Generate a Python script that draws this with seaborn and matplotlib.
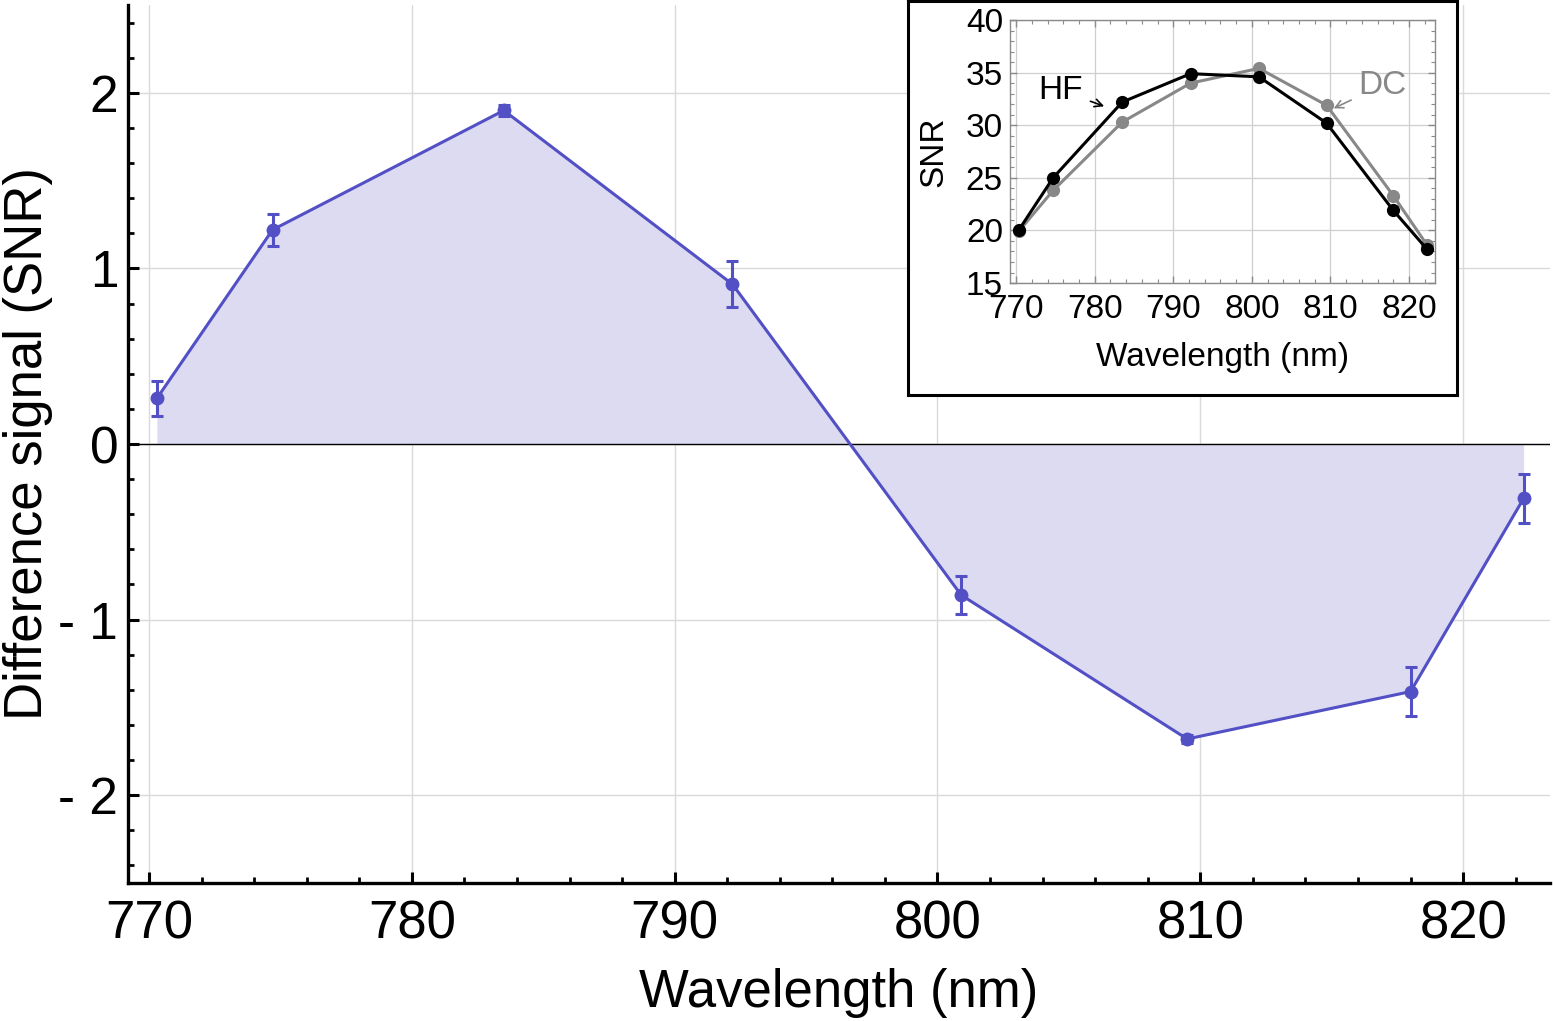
import numpy as np
import pandas as pd
import matplotlib.pyplot as plt
import matplotlib.ticker as mticker
import seaborn as sns

# values
wavelength = [770.3, 774.7, 783.5, 792.2, 800.9, 809.5, 818.0, 822.3]
diff_snr = [0.26, 1.22, 1.90, 0.91, -0.86, -1.68, -1.41, -0.31]
diff_err = [0.10, 0.09, 0.03, 0.13, 0.11, 0.02, 0.14, 0.14]

snr_hf = [20.0, 25.0, 32.2, 34.9, 34.6, 30.2, 21.9, 18.2]
snr_dc = [19.9, 23.8, 30.3, 34.0, 35.4, 31.9, 23.3, 18.6]

x_ticks = [770, 780, 790, 800, 810, 820]
y_ticks = [-2, -1, 0, 1, 2]
y_tick_labels = ['- 2', '- 1', '0', '1', '2']
inset_y_ticks = [15, 20, 25, 30, 35, 40]

df = pd.DataFrame({'wl': wavelength, 'diff': diff_snr, 'err': diff_err,
                   'HF': snr_hf, 'DC': snr_dc})

sns.set_style('white')
plt.rcParams['font.family'] = ['Liberation Sans', 'DejaVu Sans']
plt.rcParams['text.color'] = 'black'
plt.rcParams['axes.labelcolor'] = 'black'
plt.rcParams['xtick.color'] = 'black'
plt.rcParams['ytick.color'] = 'black'

blue = '#5250c4'
fill = '#dcdbf1'

fig = plt.figure(figsize=(15.53, 10.21), dpi=100)
ax = fig.add_axes([0.0824, 0.1352, 0.9156, 0.8598])

ax.fill_between(df['wl'], df['diff'], 0, color=fill, lw=0, zorder=1)
ax.axhline(0, color='black', lw=1.0, zorder=2)
sns.lineplot(data=df, x='wl', y='diff', ax=ax, color=blue, lw=2.2,
             marker='o', markersize=10, markeredgewidth=0, zorder=4)
ax.errorbar(df['wl'], df['diff'], yerr=df['err'], fmt='none', ecolor=blue,
            elinewidth=2.2, capsize=4, capthick=2.2, zorder=4)

ax.set_xlim(769.2, 823.3)
ax.set_ylim(-2.5, 2.5)
ax.set_xticks(x_ticks)
ax.set_yticks(y_ticks, y_tick_labels)
ax.xaxis.set_minor_locator(mticker.MultipleLocator(2))
ax.yaxis.set_minor_locator(mticker.MultipleLocator(0.2))
ax.grid(True, which='major', color='#dadada', lw=1.0, zorder=0)
ax.set_axisbelow(True)
for s in ['top', 'right']:
    ax.spines[s].set_visible(False)
for s in ['left', 'bottom']:
    ax.spines[s].set_linewidth(2.4)
    ax.spines[s].set_color('black')
ax.tick_params(which='both', bottom=True, left=True, direction='in')
ax.tick_params(which='major', length=8, width=2.2)
ax.tick_params(which='minor', length=4.5, width=2.0)
ax.tick_params(axis='x', which='major', labelsize=38, pad=12)
ax.tick_params(axis='y', which='major', labelsize=37, pad=7)
ax.set_xlabel('Wavelength (nm)', fontsize=38)
ax.set_ylabel('Difference signal (SNR)', fontsize=38)
ax.xaxis.set_label_coords(0.5, -0.097)
ax.yaxis.set_label_coords(-0.053, 0.5)

# inset frame
frame = fig.add_axes([0.5845, 0.6135, 0.3535, 0.3855])
frame.set_xticks([])
frame.set_yticks([])
frame.set_facecolor('white')
for s in frame.spines.values():
    s.set_linewidth(2.2)
    s.set_color('black')

ins = fig.add_axes([0.6503, 0.7228, 0.2737, 0.2576])
sns.lineplot(data=df, x='wl', y='HF', ax=ins, color='black', lw=2.2,
             marker='o', markersize=9.5, markeredgewidth=0, zorder=4)
sns.lineplot(data=df, x='wl', y='DC', ax=ins, color='#888888', lw=2.2,
             marker='o', markersize=9.5, markeredgewidth=0, zorder=3)
ins.set_xlim(769.2, 823.3)
ins.set_ylim(15, 40)
ins.set_xticks(x_ticks)
ins.set_yticks(inset_y_ticks)
ins.xaxis.set_minor_locator(mticker.MultipleLocator(2))
ins.yaxis.set_minor_locator(mticker.MultipleLocator(1))
ins.grid(True, which='major', color='#cfcfcf', lw=0.9)
ins.set_axisbelow(True)
for s in ins.spines.values():
    s.set_linewidth(1.0)
    s.set_color('#8a8a8a')
ins.tick_params(which='both', direction='in', bottom=True, left=True,
                top=True, right=True, color='#8a8a8a')
ins.tick_params(which='major', length=5, width=1.0, labelsize=24,
                labelcolor='black')
ins.tick_params(axis='x', which='major', pad=8)
ins.tick_params(axis='y', which='major', pad=5)
ins.tick_params(which='minor', length=3, width=0.8)
ins.set_xlabel('Wavelength (nm)', fontsize=24)
ins.set_ylabel('SNR', fontsize=24)
ins.xaxis.set_label_coords(0.5, -0.225)
ins.yaxis.set_label_coords(-0.142, 0.5)

ins.annotate('HF', xy=(781.2, 31.8), xytext=(775.7, 33.3), fontsize=24,
             ha='center', va='center', color='black',
             arrowprops=dict(arrowstyle='->', color='black', lw=1.2,
                             shrinkA=3, shrinkB=0, mutation_scale=14))
ins.annotate('DC', xy=(810.4, 31.6), xytext=(816.6, 33.8), fontsize=24,
             ha='center', va='center', color='#888888',
             arrowprops=dict(arrowstyle='->', color='#888888', lw=1.2,
                             shrinkA=3, shrinkB=0, mutation_scale=14))

fig.savefig('out.png', dpi=100)
